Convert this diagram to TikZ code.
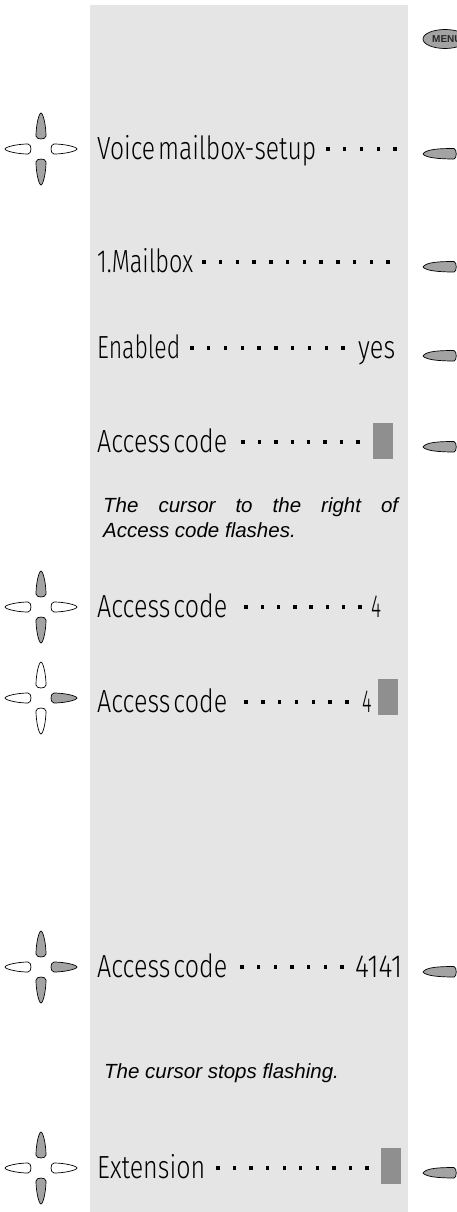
\documentclass[tikz,border=0pt]{standalone}
\usepackage{fontspec}
\setmainfont{Liberation Sans}
\newfontfamily\lcdfont{Fira Sans Light}
\definecolor{panel}{RGB}{229,229,229}
\definecolor{keyfill}{RGB}{163,163,163}
\definecolor{cursorc}{RGB}{143,143,143}
\definecolor{menutext}{RGB}{40,40,40}
\newcommand\lcdw[2]{\resizebox{#1}{\height}{#2}}
\newcommand\lsp{\hspace{0.12em}}
\newcommand\dotrow[4]{\foreach \k in {1,...,#1}{\fill[lcddot] ({#2+(\k-1)*(#3-#2)/(#1-1)-1.7},{-#4-1.7}) rectangle ++(3.4,3.4);}}
\newcommand\dpad[6]{%
  \pic[#3] at (#1,-#2) {petal};
  \pic[#4,rotate=-90] at (#1,-#2) {petal};
  \pic[#5,rotate=180] at (#1,-#2) {petal};
  \pic[#6,rotate=90] at (#1,-#2) {petal};}
\tikzset{
  petal/.pic={\path[pic actions] (-5,13) .. controls (-5,9) and (5,9) .. (5,13) .. controls (5,24) and (2,36) .. (0,36) .. controls (-2,36) and (-5,24) .. (-5,13) -- cycle;},
  softkey/.pic={\path[pic actions] (0,0) .. controls (3,5) and (17,5.5) .. (31,5.5) .. controls (34,5) and (34,-5) .. (31,-5) .. controls (17,-5) and (3,-4) .. (0,0) -- cycle;},
  keyon/.style={draw=black, line width=0.7pt, fill=keyfill},
  keyoff/.style={draw=black, line width=0.7pt, fill=white},
  lcdtext/.style={inner sep=0pt, anchor=base west, font=\lcdfont\fontsize{32}{34}\selectfont},
  note/.style={inner sep=0pt, anchor=base west, font=\itshape\fontsize{20.5}{25}\selectfont},
  cursorbox/.style={fill=cursorc},
  lcddot/.style={fill=black}
}
\begin{document}
\begin{tikzpicture}[x=1pt,y=1pt]
\useasboundingbox (0,0) rectangle (457,-1212);
\clip (0,0) rectangle (457,-1212);
\fill[panel] (90,-5) rectangle (408,-1212);

% MENU key
\draw[keyon] (445,-39) ellipse [x radius=22, y radius=9.5];
\node[anchor=west, inner sep=0pt, font=\bfseries\fontsize{10}{10}\selectfont, text=menutext] (menu) at (432,-39) {MENU};

% Row 1
\dpad{41}{149}{keyon}{keyoff}{keyon}{keyoff}
\node[lcdtext] (r1) at (97,-159) {\lcdw{219pt}{Voice\lsp mailbox-setup}};
\dotrow{5}{328}{395}{149}
\pic[keyon] at (423,-154) {softkey};

% Row 2
\node[lcdtext] (r2) at (97,-272) {\lcdw{96pt}{1.Mailbox}};
\dotrow{12}{204}{388}{262}
\pic[keyon] at (423,-267) {softkey};

% Row 3
\node[lcdtext] (r3) at (97,-358) {\lcdw{83pt}{Enabled}};
\node[lcdtext] (r3v) at (358,-358) {\lcdw{37pt}{yes}};
\dotrow{10}{192}{343}{348}
\pic[keyon] at (423,-356) {softkey};

% Row 4
\node[lcdtext] (r4) at (97,-452) {\lcdw{130pt}{Access\lsp code}};
\dotrow{8}{243}{358}{442}
\fill[cursorbox] (373,-423) rectangle (393,-459);
\pic[keyon] at (423,-447) {softkey};

% Note 1
\node[note] (n1a) at (103,-512) {\makebox[295pt][s]{The cursor to the right of}};
\node[note] (n1b) at (103,-537) {Access code flashes.};

% Row 5
\dpad{41}{607}{keyon}{keyoff}{keyon}{keyoff}
\node[lcdtext] (r5) at (97,-617) {\lcdw{130pt}{Access\lsp code}};
\dotrow{8}{246}{360}{607}
\node[lcdtext] (r5v) at (371,-617) {\lcdw{10pt}{4}};

% Row 6
\dpad{41}{698}{keyoff}{keyon}{keyoff}{keyoff}
\node[lcdtext] (r6) at (97,-712) {\lcdw{130pt}{Access\lsp code}};
\dotrow{7}{246}{347}{702}
\node[lcdtext] (r6v) at (362,-712) {\lcdw{9.5pt}{4}};
\fill[cursorbox] (378,-679) rectangle (398,-715);

% Row 7
\dpad{41}{967}{keyon}{keyon}{keyon}{keyoff}
\node[lcdtext] (r7) at (97,-977) {\lcdw{130pt}{Access\lsp code}};
\dotrow{7}{242}{342}{967}
\node[lcdtext] (r7v) at (355,-977) {\lcdw{47pt}{4141}};
\pic[keyon] at (423,-972) {softkey};

% Note 2
\node[note] (n2) at (104,-1078) {The cursor stops flashing.};

% Row 8
\dpad{41}{1168}{keyon}{keyoff}{keyon}{keyoff}
\node[lcdtext] (r8) at (97,-1178) {\lcdw{108pt}{Extension}};
\dotrow{10}{218}{367}{1168}
\fill[cursorbox] (381,-1148) rectangle (401,-1184);
\pic[keyon] at (423,-1173) {softkey};
\end{tikzpicture}
\end{document}
